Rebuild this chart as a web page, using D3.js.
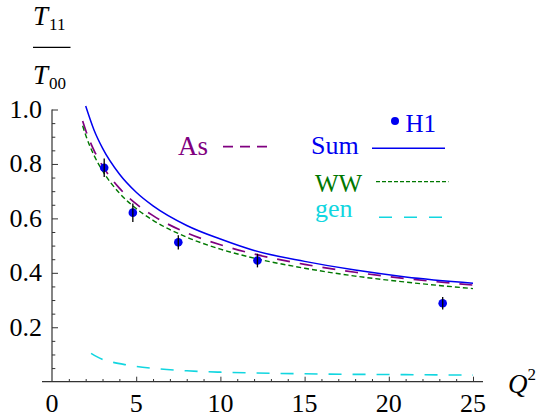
<!DOCTYPE html>
<html>
<head>
<meta charset="utf-8">
<script src="https://cdn.jsdelivr.net/npm/d3@7"></script>
<style>
body{margin:0;background:#fff;}
text{font-family:"Liberation Serif","Times New Roman",serif;}
</style>
</head>
<body>
<div id="chart"></div>
<script>
// values
let sumQ=[2.0,2.5,3,4,5,6,8,10,12,15,18,21,25];
let sumT=[1.013,0.924,0.858,0.763,0.696,0.646,0.574,0.524,0.482,0.442,0.410,0.385,0.362];
let asQ=[1.82,2,2.5,3,4,5,6,8,10,12,15,18,21,25];
let asT=[0.958,0.924,0.849,0.793,0.711,0.653,0.610,0.547,0.503,0.469,0.431,0.402,0.379,0.355];
let wwQ=[1.82,2,2.5,3,4,5,6,8,10,12,15,18,21,25];
let wwT=[0.940,0.906,0.831,0.775,0.693,0.636,0.593,0.531,0.487,0.454,0.417,0.388,0.366,0.342];
let genQ=[2.32,2.95,3.64,4.39,5,6,8,10,12,15,18,21,25];
let genT=[0.104,0.083,0.071,0.062,0.056,0.049,0.040,0.035,0.032,0.029,0.027,0.026,0.024];
let h1Q=[3.1,4.8,7.5,12.2,23.2];
let h1T=[0.786,0.621,0.512,0.445,0.288];
let h1Err=[0.034,0.034,0.026,0.025,0.023];
let xTicks=[0,5,10,15,20,25];
let yTicks=[0.2,0.4,0.6,0.8,1.0];

let width=536;
let height=417;
let blue="#0000f0", purple="#800080", green="#007800", cyan="#12d6e0";

let svg=d3.select("#chart").append("svg").attr("width",width).attr("height",height);

let x=d3.scaleLinear().domain([0,25]).range([52,473]);
let y=d3.scaleLinear().domain([0,1]).range([381.7,109.5]);

// axes
let xAxis=d3.axisBottom(x).tickValues(d3.range(1,26)).tickSizeInner(-2.7).tickSizeOuter(0).tickFormat("");
let gx=svg.append("g").attr("transform","translate(0,"+y(0)+")").call(xAxis);
gx.select(".domain").remove();
gx.selectAll(".tick line").attr("y2",function(d){return d%5===0? -5:-2.7;}).attr("stroke","#333");
svg.append("line").attr("x1",42).attr("x2",483).attr("y1",y(0)).attr("y2",y(0)).attr("stroke","#333").attr("stroke-width",1.2);

let yMinor=d3.range(1,21).map(function(i){return i*0.05;});
let yAxis=d3.axisLeft(y).tickValues(yMinor).tickSizeOuter(0).tickFormat("");
let gy=svg.append("g").attr("transform","translate("+x(0)+",0)").call(yAxis);
gy.select(".domain").remove();
gy.selectAll(".tick line").attr("x2",function(d,i){return (i+1)%4===0? 6:3.3;}).attr("stroke","#333");
svg.append("line").attr("x1",x(0)).attr("x2",x(0)).attr("y1",y(1)).attr("y2",y(0)).attr("stroke","#333").attr("stroke-width",1.2);

svg.append("g").selectAll("text").data(xTicks).enter().append("text")
  .attr("x",function(d){return x(d);}).attr("y",412)
  .attr("text-anchor","middle").attr("font-size",26).text(function(d){return d;});
svg.append("g").selectAll("text").data(yTicks).enter().append("text")
  .attr("x",42).attr("y",function(d){return y(d)+8.5;})
  .attr("text-anchor","end").attr("font-size",26).text(function(d){return d.toFixed(1);});

// axis labels
let tl=svg.append("text").attr("x",33).attr("y",25).attr("font-size",27);
tl.append("tspan").attr("font-style","italic").text("T");
tl.append("tspan").attr("font-size",17).attr("dy",4.5).attr("dx",1).text("11");
svg.append("line").attr("x1",33).attr("x2",70.5).attr("y1",47.3).attr("y2",47.3).attr("stroke","#000").attr("stroke-width",1.3);
let bl=svg.append("text").attr("x",33).attr("y",84).attr("font-size",27);
bl.append("tspan").attr("font-style","italic").text("T");
bl.append("tspan").attr("font-size",17).attr("dy",4.5).attr("dx",1).text("00");
let ql=svg.append("text").attr("x",508).attr("y",393).attr("font-size",27);
ql.append("tspan").attr("font-style","italic").text("Q");
ql.append("tspan").attr("font-size",17).attr("dy",-13).text("2");

// curves
let line=d3.line().x(function(d){return x(d[0]);}).y(function(d){return y(d[1]);}).curve(d3.curveMonotoneX);
function curve(qs,ts,color,dash,w){
  svg.append("path").datum(d3.zip(qs,ts)).attr("d",line).attr("fill","none")
    .attr("stroke",color).attr("stroke-width",w).attr("stroke-dasharray",dash);
}
curve(genQ,genT,cyan,"13,11",1.6);
curve(asQ,asT,purple,"13,10",1.7);
curve(wwQ,wwT,green,"5,3",1.4);
curve(sumQ,sumT,blue,null,1.5);

// H1 points
let pts=d3.range(h1Q.length);
svg.append("g").selectAll("circle").data(pts).enter().append("circle")
  .attr("cx",function(i){return x(h1Q[i]);}).attr("cy",function(i){return y(h1T[i]);})
  .attr("r",4.3).attr("fill",blue);
svg.append("g").selectAll("line").data(pts).enter().append("line")
  .attr("x1",function(i){return x(h1Q[i]);}).attr("x2",function(i){return x(h1Q[i]);})
  .attr("y1",function(i){return y(h1T[i]+h1Err[i]);}).attr("y2",function(i){return y(h1T[i]-h1Err[i]);})
  .attr("stroke","#000").attr("stroke-width",1.3);

// legend
svg.append("text").attr("x",178).attr("y",154.5).attr("font-size",27).attr("fill",purple).text("As");
svg.append("line").attr("x1",223).attr("x2",267).attr("y1",146.7).attr("y2",146.7).attr("stroke",purple).attr("stroke-width",1.7).attr("stroke-dasharray","10,7");
svg.append("text").attr("x",311).attr("y",153.5).attr("font-size",26).attr("fill",blue).text("Sum");
svg.append("line").attr("x1",372).attr("x2",445).attr("y1",148.3).attr("y2",148.3).attr("stroke",blue).attr("stroke-width",1.5);
svg.append("circle").attr("cx",395).attr("cy",121).attr("r",4).attr("fill",blue);
svg.append("text").attr("x",405.5).attr("y",131.5).attr("font-size",25).attr("fill",blue).text("H1");
svg.append("text").attr("x",315).attr("y",191.5).attr("font-size",25).attr("fill",green).text("WW");
svg.append("line").attr("x1",376).attr("x2",448.5).attr("y1",181.7).attr("y2",181.7).attr("stroke",green).attr("stroke-width",1.3).attr("stroke-dasharray","4,2");
svg.append("text").attr("x",315).attr("y",217).attr("font-size",26).attr("fill",cyan).text("gen");
svg.append("line").attr("x1",379).attr("x2",452).attr("y1",217.3).attr("y2",217.3).attr("stroke",cyan).attr("stroke-width",1.5).attr("stroke-dasharray","13,12");
</script>
</body>
</html>
